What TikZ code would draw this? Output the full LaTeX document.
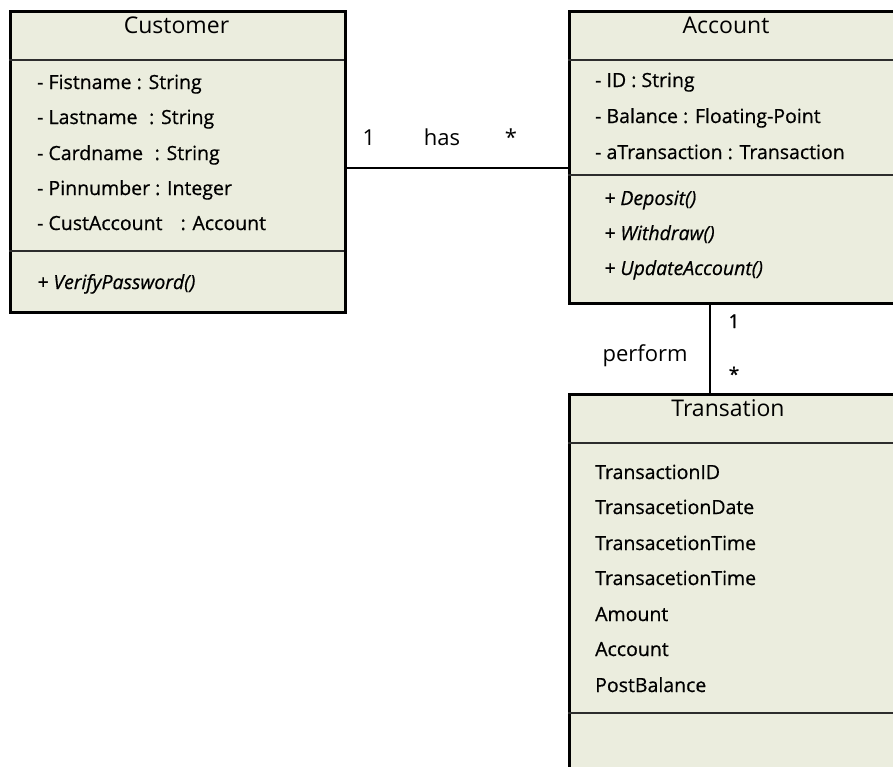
\documentclass[tikz,border=0pt]{standalone}
\usepackage{fontspec}
\setmainfont{Open Sans}[FakeBold=0.6]
\newfontfamily\plainfont{Open Sans}
\definecolor{classfill}{RGB}{235,237,222}
\definecolor{sepline}{RGB}{45,45,45}
\tikzset{
  classbox/.style={draw=black, line width=2.6pt, fill=classfill, anchor=north west, inner sep=0pt},
  sepline/.style={draw=sepline, line width=1.8pt},
  title/.style={font=\plainfont\fontsize{23}{26}\selectfont, anchor=base, inner sep=0pt},
  attr/.style={font=\fontsize{19.5}{23}\selectfont, anchor=base west, inner sep=0pt},
  oper/.style={font=\fontsize{19.5}{23}\selectfont\itshape, anchor=base west, inner sep=0pt},
  assoc/.style={draw=black, line width=2.6pt},
  asslabel/.style={font=\plainfont\fontsize{22}{26}\selectfont, anchor=base, inner sep=0pt},
  multsmall/.style={font=\fontsize{19}{22}\selectfont, anchor=base, inner sep=0pt}
}
\begin{document}
\begin{tikzpicture}[x=1pt, y=-1pt]
\useasboundingbox (0,0) rectangle (893,766);
\clip (0,0) rectangle (893,766);
\fill[white] (0,0) rectangle (893,766);

% Customer class
\node[classbox, minimum width=335pt, minimum height=301pt] (cust) at (9,10) {};
\draw[sepline] (9,60) -- (344,60);
\draw[sepline] (9,251) -- (344,251);
\node[title] (custtitle) at (176.5,33) {Customer};
\node[attr] (c1) at (37,89) {- Fistname : String};
\node[attr] (c2) at (37,124) {- Lastname\,\, : String};
\node[attr] (c3) at (37,160) {- Cardname\,\, : String};
\node[attr] (c4) at (37,195) {- Pinnumber : Integer};
\node[attr] (c5) at (37,230) {- CustAccount\,\,\,\, : Account};
\node[oper] (c6) at (37,289) {+ VerifyPassword()};

% Account class
\node[classbox, minimum width=400pt, minimum height=292pt] (acct) at (568,10) {};
\draw[sepline] (568,60) -- (968,60);
\draw[sepline] (568,175) -- (968,175);
\node[title] (accttitle) at (726,33) {Account};
\node[attr] (a1) at (595,87) {- ID : String};
\node[attr] (a2) at (595,123) {- Balance : Floating-Point};
\node[attr] (a3) at (595,159) {- aTransaction : Transaction};
\node[oper] (a4) at (604,205) {+ Deposit()};
\node[oper] (a5) at (604,240) {+ Withdraw()};
\node[oper] (a6) at (604,275) {+ UpdateAccount()};

% Transation class
\node[classbox, minimum width=400pt, minimum height=420pt] (trans) at (568,393) {};
\draw[sepline] (568,443) -- (968,443);
\draw[sepline] (568,713) -- (968,713);
\node[title] (transtitle) at (728,416) {Transation};
\node[attr] (t1) at (595,479) {TransactionID};
\node[attr] (t2) at (595,514) {TransacetionDate};
\node[attr] (t3) at (595,550) {TransacetionTime};
\node[attr] (t4) at (595,585) {TransacetionTime};
\node[attr] (t5) at (595,621) {Amount};
\node[attr] (t6) at (595,656) {Account};
\node[attr] (t7) at (595,692) {PostBalance};

% Association: Customer has Account
\coordinate (hasrow) at (0,168);
\draw[assoc] (cust.east |- hasrow) -- (acct.west |- hasrow);
\node[asslabel] (hasone) at (369,145) {1};
\node[asslabel] (hasname) at (442,145) {has};
\node[asslabel] (hasmany) at (511,145) {*};

% Association: Account perform Transation
\coordinate (perfcol) at (710,0);
\draw[assoc] (acct.south -| perfcol) -- (trans.north -| perfcol);
\node[asslabel] (perfname) at (645,361) {perform};
\node[multsmall] (perfone) at (734,328) {1};
\node[multsmall] (perfmany) at (734,381) {*};
\end{tikzpicture}
\end{document}
